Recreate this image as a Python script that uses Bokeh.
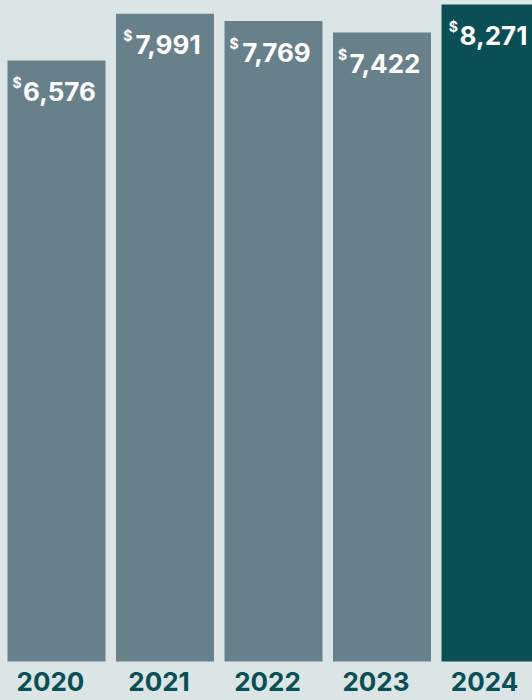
from bokeh.plotting import figure
from bokeh.models import ColumnDataSource, Range1d, GlobalInlineStyleSheet
from bokeh.core.properties import value
from bokeh.embed import file_html
from bokeh.resources import INLINE

# ---- data ----
years = ["2020", "2021", "2022", "2023", "2024"]
amounts = [6576, 7991, 7769, 7422, 8271]
highlight = [False, False, False, False, True]

# ---- style ----
BG = "#dbe5e5"
GREY = "#68808a"
TEAL = "#0a4f56"
FONT = "Inter"
NUM_FS = 26
DOL_FS = 14
YEAR_FS = 26
BASE = -11614          # bar baseline in data units

idx = list(range(len(years)))
labels = [f"{v:,}" for v in amounts]
colors = [TEAL if h else GREY for h in highlight]

# approximate glyph widths (em) to place the superscript dollar sign
CW = {"1": 0.45, ",": 0.27}
def est_width(s):
    return sum(CW.get(c, 0.62) for c in s) * NUM_FS

NUM_DX = 3
dol_dx = [NUM_DX - est_width(s) / 2 - 2 for s in labels]

src = ColumnDataSource(dict(x=idx, top=amounts, color=colors, label=labels,
                            year=years, dol=["$"] * len(years), dol_dx=dol_dx,
                            base=[BASE] * len(years)))

p = figure(width=532, height=700, output_backend="svg", toolbar_location=None,
           x_range=Range1d(-0.5161, 4.3871), y_range=Range1d(-12794, 8392),
           x_axis_location=None, y_axis_location=None, min_border=0,
           stylesheets=[GlobalInlineStyleSheet(css=f"body {{ background-color: {BG}; }}")])
p.background_fill_color = BG
p.border_fill_color = BG
p.outline_line_color = None
p.grid.visible = False

p.vbar(x="x", top="top", bottom=BASE, width=0.903, color="color",
       line_color=None, source=src)

p.text(x="x", y="top", text="label", source=src, text_color="white",
       text_font=value(FONT), text_font_style="bold", text_font_size=f"{NUM_FS}px",
       text_align="center", text_baseline="alphabetic", x_offset=NUM_DX, y_offset=31)

p.text(x="x", y="top", text="dol", source=src, text_color="white",
       text_font=value(FONT), text_font_style="bold", text_font_size=f"{DOL_FS}px",
       text_align="right", text_baseline="alphabetic", x_offset="dol_dx", y_offset=22)

p.text(x="x", y="base", text="year", source=src, text_color=TEAL,
       text_font=value(FONT), text_font_style="bold", text_font_size=f"{YEAR_FS}px",
       text_align="center", text_baseline="alphabetic", x_offset=-6, y_offset=20)

open("out.html", "w").write(file_html(p, INLINE))
